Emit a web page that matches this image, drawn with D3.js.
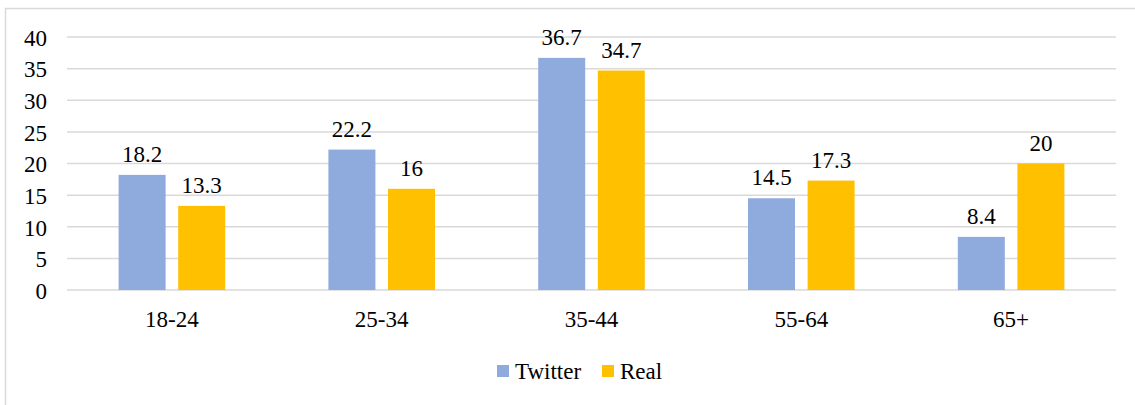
<!DOCTYPE html>
<html>
<head>
<meta charset="utf-8">
<script src="https://cdn.jsdelivr.net/npm/d3@7"></script>
</head>
<body style="margin:0">
<script>
// data
var categories = ["18-24", "25-34", "35-44", "55-64", "65+"];
var twitter = [18.2, 22.2, 36.7, 14.5, 8.4];
var real = [13.3, 16, 34.7, 17.3, 20];
var yTicks = [0, 5, 10, 15, 20, 25, 30, 35, 40];
var seriesNames = ["Twitter", "Real"];
var seriesColors = ["#8faadc", "#ffc000"];

var FONT = "Times New Roman";
var FS = "23px";

var W = 1135, H = 405;
var margin = { top: 37, right: 19, bottom: 115, left: 67 },
  width = W - margin.left - margin.right,
  height = H - margin.top - margin.bottom;

var svg = d3.select("body").append("svg")
  .attr("width", W)
  .attr("height", H)
  .attr("font-family", FONT);

// outer frame (runs off the right and bottom edge like the reference)
svg.append("rect")
  .attr("x", 5.5).attr("y", 8.5)
  .attr("width", W).attr("height", H)
  .attr("fill", "none")
  .attr("stroke", "#d9d9d9")
  .attr("stroke-width", 1.5);

var g = svg.append("g")
  .attr("transform", "translate(" + margin.left + "," + margin.top + ")");

var x = d3.scaleBand().domain(categories).range([0, width]);
var y = d3.scaleLinear().domain([0, 40]).range([height, 0]);

var barW = x.bandwidth() * 0.224,
  gap = x.bandwidth() * 0.06;

// gridlines
g.append("g")
  .selectAll("line")
  .data(yTicks)
  .enter()
  .append("line")
  .attr("x1", 0)
  .attr("x2", width)
  .attr("y1", function (d) { return y(d); })
  .attr("y2", function (d) { return y(d); })
  .attr("stroke", "#d9d9d9")
  .attr("stroke-width", 1.5);

// y axis labels
var yAxis = d3.axisLeft(y).tickValues(yTicks).tickSize(0).tickPadding(20);
var ya = g.append("g").call(yAxis).attr("font-family", FONT).attr("font-size", FS);
ya.select(".domain").remove();
ya.selectAll("text")
  .attr("font-family", FONT)
  .attr("fill", "#000")
  .attr("dy", "0.36em");

// x axis labels
var xAxis = d3.axisBottom(x).tickSize(0).tickPadding(21);
var xa = g.append("g")
  .attr("transform", "translate(0," + height + ")")
  .call(xAxis)
  .attr("font-family", FONT).attr("font-size", FS);
xa.select(".domain").remove();
xa.selectAll("text")
  .attr("font-family", FONT)
  .attr("fill", "#000");

var series = [twitter, real];

series.forEach(function (vals, si) {
  var offset = si === 0 ? -gap / 2 - barW : gap / 2;
  var rows = categories.map(function (c, i) { return { cat: c, v: vals[i] }; });

  g.append("g")
    .selectAll("rect")
    .data(rows)
    .enter()
    .append("rect")
    .attr("x", function (d) { return x(d.cat) + x.bandwidth() / 2 + offset; })
    .attr("y", function (d) { return y(d.v); })
    .attr("width", barW)
    .attr("height", function (d) { return height - y(d.v); })
    .attr("fill", seriesColors[si]);

  g.append("g")
    .selectAll("text")
    .data(rows)
    .enter()
    .append("text")
    .attr("x", function (d) { return x(d.cat) + x.bandwidth() / 2 + offset + barW / 2; })
    .attr("y", function (d) { return y(d.v) - 13; })
    .attr("text-anchor", "middle")
    .attr("fill", "#000")
    .attr("font-family", FONT)
    .attr("font-size", FS)
    .text(function (d) { return d.v; });
});

// legend
var legend = svg.append("g").attr("transform", "translate(497,365)");
var lx = [0, 105];
seriesNames.forEach(function (name, i) {
  legend.append("rect")
    .attr("x", lx[i]).attr("y", 0)
    .attr("width", 12).attr("height", 12)
    .attr("fill", seriesColors[i]);
  legend.append("text")
    .attr("x", lx[i] + 18)
    .attr("y", 14)
    .attr("fill", "#000")
    .attr("font-family", FONT)
    .attr("font-size", FS)
    .text(name);
});
</script>
</body>
</html>
